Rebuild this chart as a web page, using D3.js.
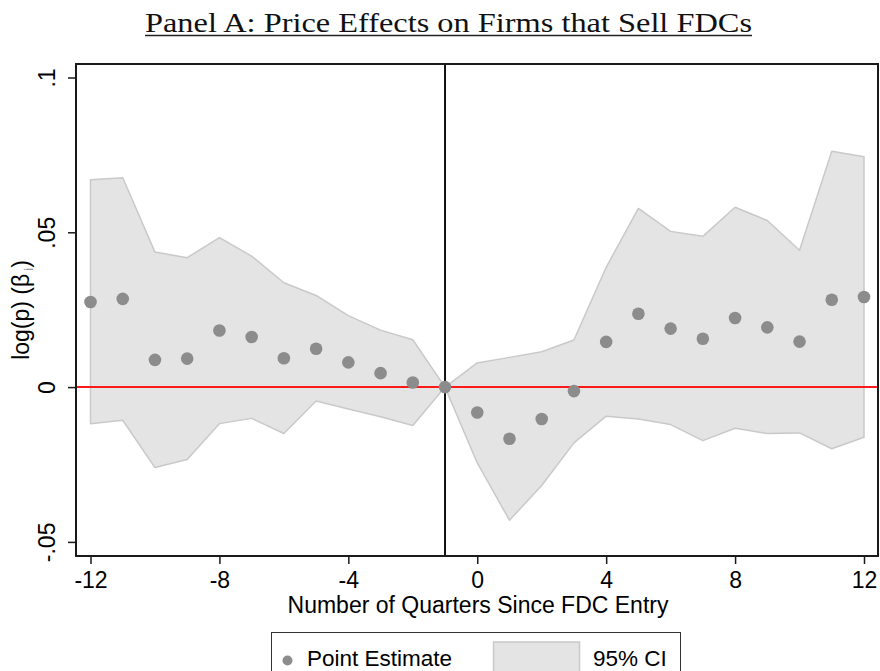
<!DOCTYPE html>
<html>
<head>
<meta charset="utf-8">
<script src="https://cdn.jsdelivr.net/npm/d3@7"></script>
<style>
  html, body { margin: 0; padding: 0; background: #fff; }
  svg { display: block; }
</style>
</head>
<body>
<svg id="chart" width="880" height="671"></svg>
<script>
// ---- data ----
const quarters = [-12,-11,-10,-9,-8,-7,-6,-5,-4,-3,-2,-1,0,1,2,3,4,5,6,7,8,9,10,11,12];
const estimate = [0.0275,0.0285,0.0088,0.0092,0.0183,0.0162,0.0093,0.0124,0.0080,0.0045,0.0015,0,
                  -0.0082,-0.0167,-0.0103,-0.0013,0.0146,0.0237,0.0189,0.0156,0.0223,0.0193,0.0147,0.0282,0.0291];
const ciUpper  = [0.0670,0.0676,0.0436,0.0418,0.0483,0.0423,0.0337,0.0296,0.0231,0.0184,0.0153,0,
                  0.0078,0.0096,0.0114,0.0152,0.0387,0.0577,0.0503,0.0487,0.0581,0.0538,0.0442,0.0762,0.0744];
const ciLower  = [-0.0118,-0.0107,-0.0260,-0.0234,-0.0118,-0.0101,-0.0150,-0.0045,-0.0071,-0.0096,-0.0124,0,
                  -0.0245,-0.0430,-0.0318,-0.0180,-0.0094,-0.0103,-0.0121,-0.0173,-0.0133,-0.0150,-0.0148,-0.0199,-0.0162];
const xTicks = [-12,-8,-4,0,4,8,12];
const xTickLabels = ["-12","-8","-4","0","4","8","12"];
const yTicks = [-0.05,0,0.05,0.1];
const yTickLabels = ["-.05","0",".05",".1"];
const eventQuarter = -1;
const titleText = "Panel A: Price Effects on Firms that Sell FDCs";
const xTitle = "Number of Quarters Since FDC Entry";
const legendLabels = ["Point Estimate","95% CI"];

// ---- layout ----
const frame = {left: 76, top: 64, right: 878, bottom: 556};
const svg = d3.select("#chart");
const sans = "'Liberation Sans', Arial, Helvetica, sans-serif";
const fs = 23;

const x = d3.scaleLinear().domain([-12,12]).range([90.5,864]);
const y = d3.scaleLinear().domain([-0.05,0.1]).range([541.9,77.5]);

const data = quarters.map((q,i)=>({q, est: estimate[i], lo: ciLower[i], hi: ciUpper[i]}));

// title
svg.append("text")
  .attr("x", 145).attr("y", 32)
  .attr("font-family", "'Liberation Serif', 'Times New Roman', serif")
  .attr("font-size", 27.5)
  .attr("textLength", 607).attr("lengthAdjust", "spacingAndGlyphs")
  .attr("fill", "#111")
  .text(titleText);
svg.append("line")
  .attr("x1", 145).attr("x2", 752).attr("y1", 35.5).attr("y2", 35.5)
  .attr("stroke", "#222").attr("stroke-width", 1.3);

// CI band
const area = d3.area()
  .x(d=>x(d.q)).y0(d=>y(d.lo)).y1(d=>y(d.hi));
svg.append("path").datum(data)
  .attr("d", area)
  .attr("fill", "#e4e4e4")
  .attr("stroke", "#c9c9c9").attr("stroke-width", 1.5)
  .attr("stroke-linejoin", "round");

// zero line
svg.append("line")
  .attr("x1", frame.left).attr("x2", frame.right)
  .attr("y1", y(0)).attr("y2", y(0))
  .attr("stroke", "#ff1a1a").attr("stroke-width", 2);

// event line
svg.append("line")
  .attr("x1", x(eventQuarter)).attr("x2", x(eventQuarter))
  .attr("y1", frame.top).attr("y2", frame.bottom)
  .attr("stroke", "#111").attr("stroke-width", 2);

// points
svg.append("g").selectAll("circle").data(data).join("circle")
  .attr("cx", d=>x(d.q)).attr("cy", d=>y(d.est))
  .attr("r", 6.3).attr("fill", "#8c8c8c");

// frame
svg.append("rect")
  .attr("x", frame.left).attr("y", frame.top)
  .attr("width", frame.right-frame.left).attr("height", frame.bottom-frame.top)
  .attr("fill", "none").attr("stroke", "#1a1a1a").attr("stroke-width", 2);

// y axis
const yAxis = d3.axisLeft(y).tickValues(yTicks).tickSize(8)
  .tickFormat((d,i)=>yTickLabels[i]);
const gy = svg.append("g").attr("transform", `translate(${frame.left},0)`).call(yAxis);
gy.select(".domain").remove();
gy.selectAll(".tick line").attr("stroke", "#1a1a1a").attr("stroke-width", 1.5);
gy.selectAll(".tick text")
  .attr("font-family", sans).attr("font-size", fs).attr("fill", "#000")
  .attr("x", null).attr("dy", null)
  .attr("text-anchor", "middle")
  .attr("transform", "translate(-21,0) rotate(-90)")
  .attr("y", 0);

// x axis
const xAxis = d3.axisBottom(x).tickValues(xTicks).tickSize(8)
  .tickFormat((d,i)=>xTickLabels[i]);
const gx = svg.append("g").attr("transform", `translate(0,${frame.bottom})`).call(xAxis);
gx.select(".domain").remove();
gx.selectAll(".tick line").attr("stroke", "#1a1a1a").attr("stroke-width", 1.5);
gx.selectAll(".tick text")
  .attr("font-family", sans).attr("font-size", fs).attr("fill", "#000")
  .attr("dy", null).attr("y", 31.5);

// axis titles
svg.append("text")
  .attr("x", 478).attr("y", 613)
  .attr("text-anchor", "middle")
  .attr("font-family", sans).attr("font-size", fs)
  .text(xTitle);

const yt = svg.append("text")
  .attr("transform", "translate(29,310) rotate(-90)")
  .attr("text-anchor", "middle")
  .attr("font-family", sans).attr("font-size", fs);
yt.append("tspan").text("log(p) (β");
yt.append("tspan").attr("font-size", 13).attr("fill", "#9a9a9a").attr("dx", 3).attr("dy", 4).text("i");
yt.append("tspan").attr("dy", -4).text(")");

// legend
const lg = svg.append("g");
lg.append("rect")
  .attr("x", 271.5).attr("y", 632.5).attr("width", 409).attr("height", 60)
  .attr("fill", "#fff").attr("stroke", "#333").attr("stroke-width", 1);
lg.append("circle").attr("cx", 287.5).attr("cy", 660.5).attr("r", 5).attr("fill", "#8c8c8c");
lg.append("text").attr("x", 307).attr("y", 666)
  .attr("font-family", sans).attr("font-size", 22.5).text(legendLabels[0]);
lg.append("rect")
  .attr("x", 493.5).attr("y", 642).attr("width", 86).attr("height", 40)
  .attr("fill", "#e4e4e4").attr("stroke", "#c9c9c9").attr("stroke-width", 1.5);
lg.append("text").attr("x", 593).attr("y", 666)
  .attr("font-family", sans).attr("font-size", 22.5).text(legendLabels[1]);
</script>
</body>
</html>
